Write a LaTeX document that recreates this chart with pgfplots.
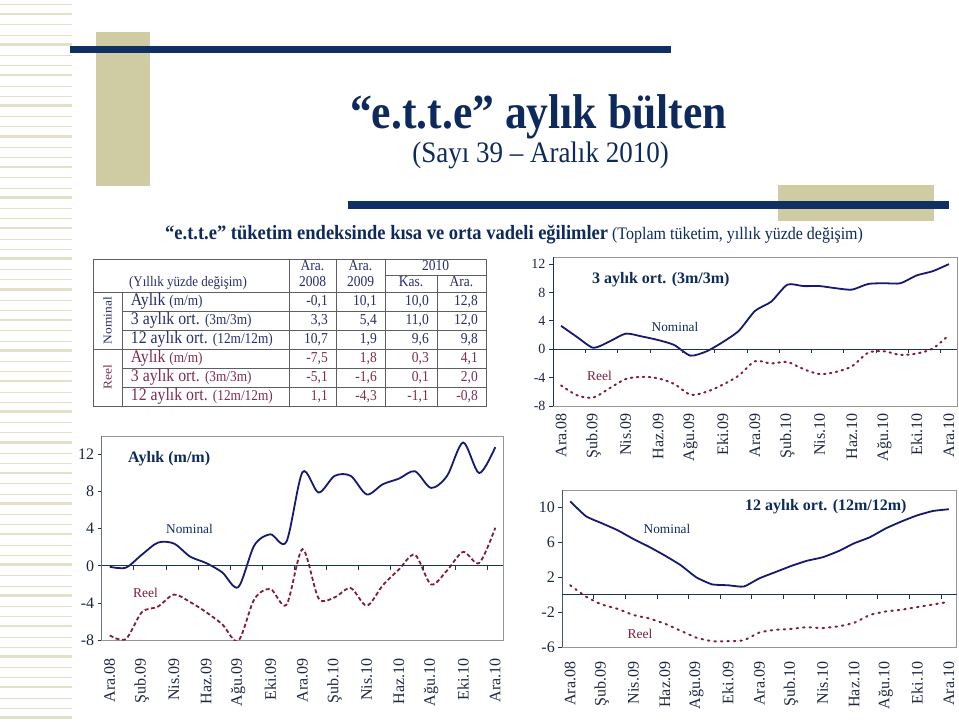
\documentclass[border=0pt]{standalone}
\usepackage{pgfplots}
\usepackage{pgfplotstable}
\pgfplotsset{compat=1.18}
\usepackage{fontspec}
\setmainfont{Liberation Serif}
\newcommand\fs[1]{\fontsize{#1}{#1}\selectfont}
\definecolor{navyline}{RGB}{22,26,110}
\definecolor{maroonl}{RGB}{128,30,55}
\definecolor{axisnavy}{RGB}{25,50,95}
\definecolor{framegray}{RGB}{150,150,150}
\definecolor{khaki}{RGB}{207,204,163}
\definecolor{stripe}{RGB}{226,224,200}
\definecolor{barnavy}{RGB}{16,48,100}
\definecolor{titlenavy}{RGB}{14,42,92}
\definecolor{tabnavy}{RGB}{40,45,110}
\definecolor{tabred}{RGB}{125,45,80}
\definecolor{ticktext}{RGB}{30,40,65}
\definecolor{tabline}{RGB}{95,95,95}

\pgfplotstableread{
x nom reel
0 3.3 -5.1
1 1.7 -6.5
2 0.2 -6.8
3 1.1 -5.5
4 2.2 -4.2
5 1.8 -3.9
6 1.3 -4.1
7 0.6 -4.9
8 -0.9 -6.4
9 -0.3 -6.0
10 1.0 -5.0
11 2.6 -3.7
12 5.4 -1.7
13 6.7 -2.0
14 9.1 -1.8
15 8.9 -2.8
16 8.9 -3.5
17 8.6 -3.2
18 8.4 -2.4
19 9.2 -0.5
20 9.3 -0.3
21 9.3 -0.8
22 10.4 -0.6
23 11.0 0.1
24 12.0 2.0
}\tabA

\pgfplotstableread{
x nom reel
0 -0.1 -7.5
1 -0.2 -7.9
2 1.2 -5.0
3 2.5 -4.4
4 2.4 -3.1
5 1.0 -3.9
6 0.3 -5.0
7 -0.7 -6.3
8 -2.3 -8.1
9 2.2 -3.6
10 3.4 -2.5
11 2.6 -4.2
12 10.1 1.8
13 7.9 -3.5
14 9.7 -3.4
15 9.7 -2.4
16 7.7 -4.3
17 8.8 -2.1
18 9.4 -0.4
19 10.2 1.2
20 8.4 -2.0
21 9.7 -0.5
22 13.3 1.5
23 10.0 0.3
24 12.8 4.1
}\tabB

\pgfplotstableread{
x nom reel
0 10.7 1.1
1 9.0 -0.2
2 8.2 -1.1
3 7.4 -1.6
4 6.4 -2.3
5 5.5 -2.7
6 4.5 -3.3
7 3.4 -4.1
8 2.0 -4.9
9 1.2 -5.3
10 1.1 -5.3
11 0.95 -5.2
12 1.9 -4.3
13 2.6 -4.0
14 3.3 -3.9
15 3.9 -3.7
16 4.3 -3.8
17 5.0 -3.6
18 5.9 -3.2
19 6.6 -2.3
20 7.6 -1.9
21 8.4 -1.7
22 9.1 -1.4
23 9.6 -1.1
24 9.8 -0.8
}\tabC

\pgfplotsset{
  slide/.style={
    scale only axis,
    anchor=south west,
    xmin=-0.5, xmax=24.5,
    axis line style={framegray, line width=0.8pt},
    xtick={0,2,...,24},
    xticklabels={Ara.08,Şub.09,Nis.09,Haz.09,Ağu.09,Eki.09,Ara.09,Şub.10,Nis.10,Haz.10,Ağu.10,Eki.10,Ara.10},
    xticklabel style={rotate=90, anchor=east, text=ticktext, font=\fs{16}},
    xtick style={draw=none},
    ytick style={axisnavy, line width=0.8pt},
    tick align=outside,
    ytick pos=left,
    xtick pos=left,
    major tick length=4pt,
    yticklabel style={text=ticktext},
  },
}
\newcommand\zeroaxis{%
  \draw[axisnavy, line width=1pt] (axis cs:-0.5,0) -- (axis cs:24.5,0);
  \pgfplotsinvokeforeach{1.5,3.5,5.5,7.5,9.5,11.5,13.5,15.5,17.5,19.5,21.5,23.5}{\draw[axisnavy, line width=0.8pt] (axis cs:##1,0) -- ([yshift=-4pt]axis cs:##1,0);}
  \draw[axisnavy, line width=1pt] (rel axis cs:0,0) -- (rel axis cs:0,1);
}

\begin{document}
\begin{tikzpicture}[x=1pt,y=1pt]
\useasboundingbox (0,0) rectangle (959,721);
\fill[white] (0,0) rectangle (959,721);

% left stripes
\foreach \i in {0,...,70} {
  \pgfmathsetmacro\yy{\i*10.2+2}
  \pgfmathsetmacro\ww{mod(\i,3)==0 ? 2.6 : 0.9}
  \fill[stripe] (0,\yy) rectangle (72,\yy+\ww);
}

% decorations
\fill[khaki] (96,535) rectangle (150,689);
\fill[barnavy] (70,668) rectangle (671,675);
\fill[khaki] (778,500) rectangle (934,536);
\fill[barnavy] (348,512) rectangle (949,520);

% titles
\node[anchor=base, inner sep=0, text=titlenavy, yscale=1.12] at (538.5,592) {\fs{43.6}\bfseries “e.t.t.e” aylık bülten};
\node[anchor=base, inner sep=0, text=titlenavy, yscale=1.1] at (540.5,558) {\fs{27}(Sayı 39 – Aralık 2010)};
\node[anchor=base west, inner sep=0, text=titlenavy, yscale=1.1] at (165,481) {\fs{18.5}\bfseries “e.t.t.e” tüketim endeksinde kısa ve orta vadeli eğilimler\fs{16}\mdseries\ (Toplam tüketim, yıllık yüzde değişim)};

% table
\begin{scope}[tabline, line width=0.8pt]
\draw (93,315) rectangle (486,462);
\draw (93,429) -- (486,429);
\draw (93,372) -- (486,372);
\draw (122,410) -- (486,410);
\draw (122,391) -- (486,391);
\draw (122,353) -- (486,353);
\draw (122,334) -- (486,334);
\draw (385,446) -- (486,446);
\draw (122,315) -- (122,429);
\draw (289,315) -- (289,462);
\draw (336,315) -- (336,462);
\draw (385,315) -- (385,462);
\draw (437,315) -- (437,446);
\end{scope}
\begin{scope}[every node/.style={inner sep=0, text=tabnavy, yscale=1.12}]
\node[anchor=base] at (312.5,450.3) {\fs{13.5}Ara.};
\node[anchor=base] at (312.5,434.3) {\fs{13.5}2008};
\node[anchor=base] at (360.5,450.3) {\fs{13.5}Ara.};
\node[anchor=base] at (360.5,434.3) {\fs{13.5}2009};
\node[anchor=base] at (435.5,450.3) {\fs{13.5}2010};
\node[anchor=base] at (411,434.3) {\fs{13.5}Kas.};
\node[anchor=base] at (461.5,434.3) {\fs{13.5}Ara.};
\node[anchor=base] at (188,434.3) {\fs{13}(Yıllık yüzde değişim)};
\node[rotate=90] at (107.5,400.5) {\fs{12}Nominal};
\node[rotate=90, text=tabred] at (107.5,343.5) {\fs{12}Reel};
\node[anchor=base west] at (130.7,415) {\fs{15.8}Aylık \fs{13.3}(m/m)};
\node[anchor=base west] at (130.7,396) {\fs{15.8}3 aylık ort. \fs{13.3}(3m/3m)};
\node[anchor=base west] at (130.7,377) {\fs{15.8}12 aylık ort. \fs{13.3}(12m/12m)};
\node[anchor=base west, text=tabred] at (130.7,358) {\fs{15.8}Aylık \fs{13.3}(m/m)};
\node[anchor=base west, text=tabred] at (130.7,339) {\fs{15.8}3 aylık ort. \fs{13.3}(3m/3m)};
\node[anchor=base west, text=tabred] at (130.7,320) {\fs{15.8}12 aylık ort. \fs{13.3}(12m/12m)};
\end{scope}
\begin{scope}[every node/.style={inner sep=0, anchor=base east, yscale=1.12}]
\node[text=tabnavy] at (328,415) {\fs{13.5}-0,1};
\node[text=tabnavy] at (377,415) {\fs{13.5}10,1};
\node[text=tabnavy] at (429,415) {\fs{13.5}10,0};
\node[text=tabnavy] at (478,415) {\fs{13.5}12,8};
\node[text=tabnavy] at (328,396) {\fs{13.5}3,3};
\node[text=tabnavy] at (377,396) {\fs{13.5}5,4};
\node[text=tabnavy] at (429,396) {\fs{13.5}11,0};
\node[text=tabnavy] at (478,396) {\fs{13.5}12,0};
\node[text=tabnavy] at (328,377) {\fs{13.5}10,7};
\node[text=tabnavy] at (377,377) {\fs{13.5}1,9};
\node[text=tabnavy] at (429,377) {\fs{13.5}9,6};
\node[text=tabnavy] at (478,377) {\fs{13.5}9,8};
\node[text=tabred] at (328,358) {\fs{13.5}-7,5};
\node[text=tabred] at (377,358) {\fs{13.5}1,8};
\node[text=tabred] at (429,358) {\fs{13.5}0,3};
\node[text=tabred] at (478,358) {\fs{13.5}4,1};
\node[text=tabred] at (328,339) {\fs{13.5}-5,1};
\node[text=tabred] at (377,339) {\fs{13.5}-1,6};
\node[text=tabred] at (429,339) {\fs{13.5}0,1};
\node[text=tabred] at (478,339) {\fs{13.5}2,0};
\node[text=tabred] at (328,320) {\fs{13.5}1,1};
\node[text=tabred] at (377,320) {\fs{13.5}-4,3};
\node[text=tabred] at (429,320) {\fs{13.5}-1,1};
\node[text=tabred] at (478,320) {\fs{13.5}-0,8};
\end{scope}

% Chart A: 3m/3m
\begin{axis}[slide, at={(553pt,315pt)}, width=404pt, height=149pt,
  ymin=-8, ymax=13, ytick={-8,-4,0,4,8,12}, yticklabels={-8,-4,0,4,8,12},
  yticklabel style={font=\fs{14}}]
\addplot[navyline, line width=1.8pt, smooth, tension=0.4] table[x=x,y=nom]{\tabA};
\addplot[maroonl, line width=2pt, line cap=round, dash pattern=on 1.5pt off 4.5pt, smooth, tension=0.5] table[x=x,y=reel]{\tabA};
\zeroaxis
\end{axis}
\node[anchor=west, inner sep=0, text=titlenavy] at (592,441) {\fs{16}\bfseries 3 aylık ort. (3m/3m)};
\node[inner sep=0, text=titlenavy] at (675,394) {\fs{13.3}Nominal};
\node[inner sep=0, text=maroonl] at (599.5,345) {\fs{13.5}Reel};

% Chart B: m/m
\begin{axis}[slide, at={(101.7pt,81pt)}, width=401.6pt, height=204pt,
  ymin=-8, ymax=14, ytick={-8,-4,0,4,8,12}, yticklabels={-8,-4,0,4,8,12},
  yticklabel style={font=\fs{16}}, xticklabel shift=11pt]
\addplot[navyline, line width=1.8pt, smooth, tension=0.5] table[x=x,y=nom]{\tabB};
\addplot[maroonl, line width=1.8pt, dash pattern=on 4pt off 2.5pt, smooth, tension=0.5] table[x=x,y=reel]{\tabB};
\zeroaxis
\end{axis}
\node[anchor=west, inner sep=0, text=titlenavy] at (128,262) {\fs{16}\bfseries Aylık (m/m)};
\node[inner sep=0, text=titlenavy] at (189.5,192) {\fs{13.3}Nominal};
\node[inner sep=0, text=maroonl] at (145.5,128) {\fs{13.5}Reel};

% Chart C: 12m/12m
\begin{axis}[slide, at={(562.3pt,73.7pt)}, width=394.4pt, height=157.3pt,
  ymin=-6, ymax=12, ytick={-6,-2,2,6,10}, yticklabels={-6,-2,2,6,10},
  yticklabel style={font=\fs{16}}, xticklabel shift=7pt]
\addplot[navyline, line width=1.8pt, smooth, tension=0.3] table[x=x,y=nom]{\tabC};
\addplot[maroonl, line width=2pt, line cap=round, dash pattern=on 1.5pt off 5pt, smooth, tension=0.3] table[x=x,y=reel]{\tabC};
\zeroaxis
\end{axis}
\node[anchor=west, inner sep=0, text=titlenavy] at (745,214) {\fs{16}\bfseries 12 aylık ort. (12m/12m)};
\node[inner sep=0, text=titlenavy] at (667,192) {\fs{13.3}Nominal};
\node[inner sep=0, text=maroonl] at (640,87) {\fs{13.5}Reel};
\end{tikzpicture}
\end{document}
